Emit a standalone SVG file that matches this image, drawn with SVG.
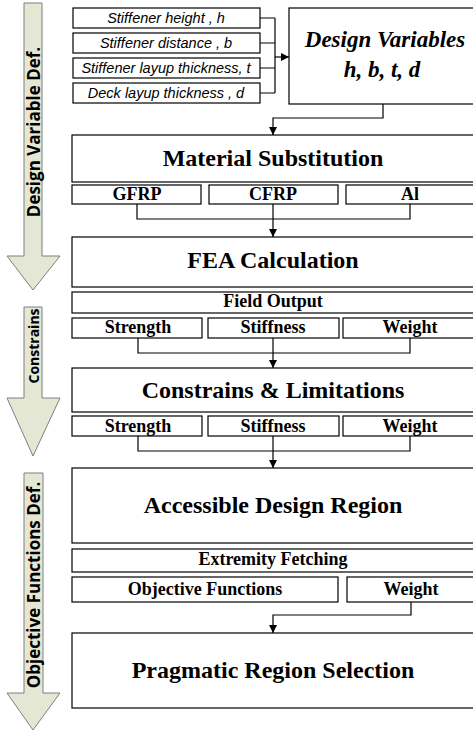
<svg xmlns="http://www.w3.org/2000/svg" width="473" height="743" viewBox="0 0 473 743">
<defs>
<marker id="ah" viewBox="0 0 10 10" refX="10" refY="5" markerWidth="8" markerHeight="8" markerUnits="userSpaceOnUse" orient="auto">
<path d="M0,0 L10,5 L0,10 z" fill="#000"/>
</marker>
<style>
.box{fill:#fff;stroke:#000;stroke-width:1.2}
.arr{fill:#e4e7d4;stroke:#7f7f7f;stroke-width:1}
.con{fill:none;stroke:#000;stroke-width:1.2}
.big{font-family:"Liberation Serif",serif;font-weight:bold;font-size:24px;text-anchor:middle}
.sm{font-family:"Liberation Serif",serif;font-weight:bold;font-size:18px;text-anchor:middle}
.it{font-family:"Liberation Sans",sans-serif;font-style:italic;font-size:14.5px;text-anchor:middle}
.dv{font-family:"Liberation Serif",serif;font-weight:bold;font-style:italic;font-size:23px;text-anchor:middle}
.side{font-family:"Open Sans","Noto Sans",sans-serif;font-weight:bold;font-size:17px;text-anchor:middle;dominant-baseline:central}
</style>
</defs>
<rect width="473" height="743" fill="#fff"/>

<g id="phase-arrows">
<g id="arrow-design">
<polygon class="arr" points="24,3 42,3 42,256 60,256 33,290 7,256 24,256"/>
<text class="side" transform="translate(33,132) rotate(-90)">Design Variable Def.</text>
</g>
<g id="arrow-constrains">
<polygon class="arr" points="24,307 42,307 42,398 60,398 33,456 7,398 24,398"/>
<text class="side" style="font-size:14px" transform="translate(33,346) rotate(-90)">Constrains</text>
</g>
<g id="arrow-objective">
<polygon class="arr" points="24,473 43,473 43,693 60,693 33,730 7,693 24,693"/>
<text class="side" transform="translate(33,585) rotate(-90)">Objective Functions Def.</text>
</g>
</g>

<g id="var-h"><rect class="box" x="73" y="8" width="187" height="20"/><text class="it" x="166" y="23">Stiffener height , h</text></g>
<g id="var-b"><rect class="box" x="73" y="33" width="187" height="20"/><text class="it" x="166" y="48">Stiffener distance , b</text></g>
<g id="var-t"><rect class="box" x="73" y="58" width="187" height="20"/><text class="it" x="166" y="73">Stiffener layup thickness, t</text></g>
<g id="var-d"><rect class="box" x="73" y="83" width="187" height="20"/><text class="it" x="166" y="98">Deck layup thickness , d</text></g>

<g id="design-variables"><rect class="box" x="289" y="8" width="200" height="96"/>
<text class="dv" x="385" y="47">Design Variables</text>
<text class="dv" x="382" y="77">h, b, t, d</text></g>

<g id="material"><rect class="box" x="72" y="135" width="404" height="47"/><text class="big" x="273" y="166">Material Substitution</text></g>
<g id="gfrp"><rect class="box" x="72" y="185" width="129" height="19"/><text class="sm" x="137" y="200">GFRP</text></g>
<g id="cfrp"><rect class="box" x="209" y="185" width="129" height="19"/><text class="sm" x="273" y="200">CFRP</text></g>
<g id="al"><rect class="box" x="346" y="185" width="130" height="19"/><text class="sm" x="410" y="200">Al</text></g>

<g id="fea"><rect class="box" x="72" y="237" width="404" height="50"/><text class="big" x="273" y="268">FEA Calculation</text></g>
<g id="field-output"><rect class="box" x="72" y="292" width="404" height="21"/><text class="sm" x="273" y="307">Field Output</text></g>
<g id="fo-strength"><rect class="box" x="72" y="318" width="130" height="20"/><text class="sm" x="138" y="333">Strength</text></g>
<g id="fo-stiffness"><rect class="box" x="208" y="318" width="131" height="20"/><text class="sm" x="273" y="333">Stiffness</text></g>
<g id="fo-weight"><rect class="box" x="343" y="318" width="133" height="20"/><text class="sm" x="410" y="333">Weight</text></g>

<g id="constrains"><rect class="box" x="72" y="368" width="404" height="44"/><text class="big" x="273" y="398">Constrains &amp; Limitations</text></g>
<g id="c-strength"><rect class="box" x="72" y="416" width="130" height="20"/><text class="sm" x="138" y="432">Strength</text></g>
<g id="c-stiffness"><rect class="box" x="208" y="416" width="131" height="20"/><text class="sm" x="273" y="432">Stiffness</text></g>
<g id="c-weight"><rect class="box" x="343" y="416" width="133" height="20"/><text class="sm" x="410" y="432">Weight</text></g>

<g id="accessible"><rect class="box" x="72" y="468" width="404" height="75"/><text class="big" x="273" y="513">Accessible Design Region</text></g>
<g id="extremity"><rect class="box" x="72" y="549" width="404" height="23"/><text class="sm" x="273" y="565">Extremity Fetching</text></g>
<g id="objective"><rect class="box" x="72" y="577" width="266" height="25"/><text class="sm" x="205" y="595">Objective Functions</text></g>
<g id="o-weight"><rect class="box" x="347" y="577" width="129" height="25"/><text class="sm" x="411" y="595">Weight</text></g>

<g id="pragmatic"><rect class="box" x="72" y="633" width="404" height="75"/><text class="big" x="273" y="678">Pragmatic Region Selection</text></g>

<g id="connectors">
<path class="con" d="M260,18 H275 M260,43 H275 M260,68 H275 M260,93 H275 M275,18 V93"/>
<path class="con" d="M275,57 H289" marker-end="url(#ah)"/>
<path class="con" d="M383,104 V118 H273 V135" marker-end="url(#ah)"/>
<path class="con" d="M137,204 V219 H410 V204"/>
<path class="con" d="M273,204 V237" marker-end="url(#ah)"/>
<path class="con" d="M138,338 V353 H410 V338"/>
<path class="con" d="M273,338 V368" marker-end="url(#ah)"/>
<path class="con" d="M138,436 V451 H410 V436"/>
<path class="con" d="M273,436 V468" marker-end="url(#ah)"/>
<path class="con" d="M411,602 V615 H273 V633" marker-end="url(#ah)"/>
</g>
</svg>
